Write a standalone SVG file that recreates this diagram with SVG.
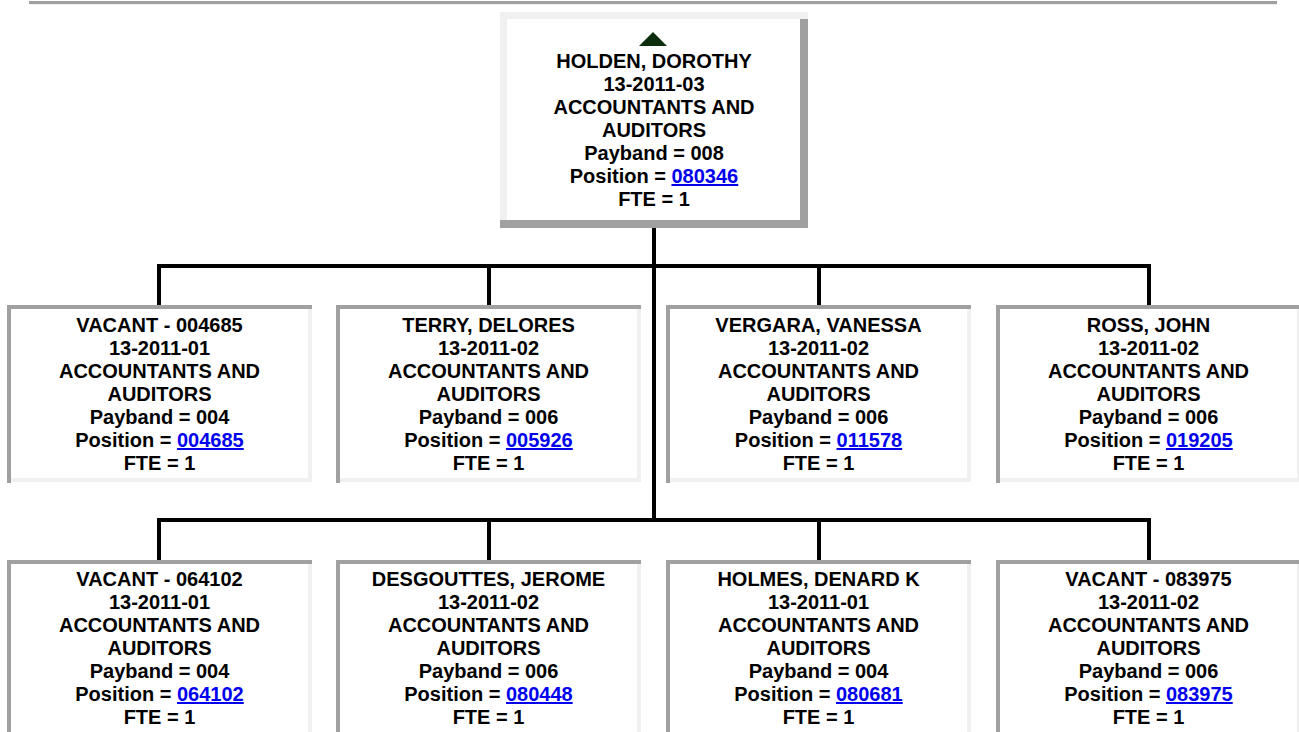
<svg xmlns="http://www.w3.org/2000/svg" xmlns:xlink="http://www.w3.org/1999/xlink" width="1299" height="732" viewBox="0 0 1299 732">
<style>
.t{font-family:"Liberation Sans",Arial,sans-serif;font-weight:bold;font-size:20px;fill:#000;text-anchor:middle}
.lk{fill:#0000ee;text-decoration:underline}
.dk{fill:#a0a0a0}
.lt{fill:#f0f0f0}
.cn{fill:none;stroke:#000;stroke-width:4}
</style>
<defs>
<g id="cb">
<rect x="0" y="0" width="305" height="177" fill="#fff"/>
<rect class="dk" x="0" y="0" width="305" height="4"/>
<rect class="dk" x="0" y="0" width="4" height="178"/>
<rect class="lt" x="301" y="4" width="4" height="173"/>
<rect class="lt" x="4" y="173" width="301" height="4"/>
</g>
</defs>
<rect width="1299" height="732" fill="#fff"/>
<rect class="dk" x="29" y="1" width="1248" height="3"/>
<rect class="lt" x="30" y="4" width="1248" height="1"/>

<g id="connectors">
<path class="cn" d="M654 228 V522"/>
<path class="cn" d="M159 305 V266 H1149 V305 M489 266 V305 M819 266 V305"/>
<path class="cn" d="M159 560 V520 H1149 V560 M489 520 V560 M819 520 V560"/>
</g>

<g id="n-holden">
<rect x="500" y="12" width="308" height="216" fill="#fff"/>
<rect class="lt" x="500" y="12" width="308" height="7"/>
<rect class="lt" x="500" y="12" width="7" height="208"/>
<rect class="dk" x="800" y="19" width="8" height="209"/>
<rect class="dk" x="500" y="220" width="308" height="8"/>
<polygon points="653,32 667,46 639,46" fill="#0c2e0c"/>
<text class="t" x="654" y="68">HOLDEN, DOROTHY</text>
<text class="t" x="654" y="91">13-2011-03</text>
<text class="t" x="654" y="114">ACCOUNTANTS AND</text>
<text class="t" x="654" y="137">AUDITORS</text>
<text class="t" x="654" y="160">Payband = 008</text>
<text class="t" x="654" y="183">Position = <tspan class="lk">080346</tspan></text>
<text class="t" x="654" y="206">FTE = 1</text>
</g>

<g id="n-vacant-004685">
<use xlink:href="#cb" x="7" y="305"/>
<text class="t" x="159.5" y="332">VACANT - 004685</text>
<text class="t" x="159.5" y="355">13-2011-01</text>
<text class="t" x="159.5" y="378">ACCOUNTANTS AND</text>
<text class="t" x="159.5" y="401">AUDITORS</text>
<text class="t" x="159.5" y="424">Payband = 004</text>
<text class="t" x="159.5" y="447">Position = <tspan class="lk">004685</tspan></text>
<text class="t" x="159.5" y="470">FTE = 1</text>
</g>

<g id="n-terry">
<use xlink:href="#cb" x="336" y="305"/>
<text class="t" x="488.5" y="332">TERRY, DELORES</text>
<text class="t" x="488.5" y="355">13-2011-02</text>
<text class="t" x="488.5" y="378">ACCOUNTANTS AND</text>
<text class="t" x="488.5" y="401">AUDITORS</text>
<text class="t" x="488.5" y="424">Payband = 006</text>
<text class="t" x="488.5" y="447">Position = <tspan class="lk">005926</tspan></text>
<text class="t" x="488.5" y="470">FTE = 1</text>
</g>

<g id="n-vergara">
<use xlink:href="#cb" x="666" y="305"/>
<text class="t" x="818.5" y="332">VERGARA, VANESSA</text>
<text class="t" x="818.5" y="355">13-2011-02</text>
<text class="t" x="818.5" y="378">ACCOUNTANTS AND</text>
<text class="t" x="818.5" y="401">AUDITORS</text>
<text class="t" x="818.5" y="424">Payband = 006</text>
<text class="t" x="818.5" y="447">Position = <tspan class="lk">011578</tspan></text>
<text class="t" x="818.5" y="470">FTE = 1</text>
</g>

<g id="n-ross">
<use xlink:href="#cb" x="996" y="305"/>
<text class="t" x="1148.5" y="332">ROSS, JOHN</text>
<text class="t" x="1148.5" y="355">13-2011-02</text>
<text class="t" x="1148.5" y="378">ACCOUNTANTS AND</text>
<text class="t" x="1148.5" y="401">AUDITORS</text>
<text class="t" x="1148.5" y="424">Payband = 006</text>
<text class="t" x="1148.5" y="447">Position = <tspan class="lk">019205</tspan></text>
<text class="t" x="1148.5" y="470">FTE = 1</text>
</g>

<g id="n-vacant-064102">
<use xlink:href="#cb" x="7" y="560"/>
<text class="t" x="159.5" y="586">VACANT - 064102</text>
<text class="t" x="159.5" y="609">13-2011-01</text>
<text class="t" x="159.5" y="632">ACCOUNTANTS AND</text>
<text class="t" x="159.5" y="655">AUDITORS</text>
<text class="t" x="159.5" y="678">Payband = 004</text>
<text class="t" x="159.5" y="701">Position = <tspan class="lk">064102</tspan></text>
<text class="t" x="159.5" y="724">FTE = 1</text>
</g>

<g id="n-desgouttes">
<use xlink:href="#cb" x="336" y="560"/>
<text class="t" x="488.5" y="586">DESGOUTTES, JEROME</text>
<text class="t" x="488.5" y="609">13-2011-02</text>
<text class="t" x="488.5" y="632">ACCOUNTANTS AND</text>
<text class="t" x="488.5" y="655">AUDITORS</text>
<text class="t" x="488.5" y="678">Payband = 006</text>
<text class="t" x="488.5" y="701">Position = <tspan class="lk">080448</tspan></text>
<text class="t" x="488.5" y="724">FTE = 1</text>
</g>

<g id="n-holmes">
<use xlink:href="#cb" x="666" y="560"/>
<text class="t" x="818.5" y="586">HOLMES, DENARD K</text>
<text class="t" x="818.5" y="609">13-2011-01</text>
<text class="t" x="818.5" y="632">ACCOUNTANTS AND</text>
<text class="t" x="818.5" y="655">AUDITORS</text>
<text class="t" x="818.5" y="678">Payband = 004</text>
<text class="t" x="818.5" y="701">Position = <tspan class="lk">080681</tspan></text>
<text class="t" x="818.5" y="724">FTE = 1</text>
</g>

<g id="n-vacant-083975">
<use xlink:href="#cb" x="996" y="560"/>
<text class="t" x="1148.5" y="586">VACANT - 083975</text>
<text class="t" x="1148.5" y="609">13-2011-02</text>
<text class="t" x="1148.5" y="632">ACCOUNTANTS AND</text>
<text class="t" x="1148.5" y="655">AUDITORS</text>
<text class="t" x="1148.5" y="678">Payband = 006</text>
<text class="t" x="1148.5" y="701">Position = <tspan class="lk">083975</tspan></text>
<text class="t" x="1148.5" y="724">FTE = 1</text>
</g>
</svg>
